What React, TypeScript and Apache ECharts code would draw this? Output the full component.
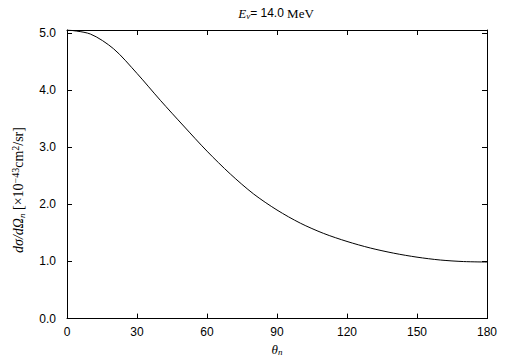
import React, { useEffect, useRef } from "react";
import * as echarts from "echarts";

const thetaDeg = [0, 10, 20, 30, 40, 50, 60, 70, 80, 90, 100, 110, 120, 130, 140, 150, 160, 170, 180];
const crossSection = [5.05, 4.98, 4.72, 4.29, 3.82, 3.37, 2.93, 2.53, 2.18, 1.90, 1.67, 1.49, 1.35, 1.235, 1.145, 1.075, 1.025, 0.998, 0.99];
const xTicks = [0, 30, 60, 90, 120, 150, 180];
const yTicks = [0, 1, 2, 3, 4, 5];

export default function App() {
  const ref = useRef<HTMLDivElement>(null);
  useEffect(() => {
    if (!ref.current) return;
    const chart = echarts.init(ref.current, null, { renderer: "svg" });
    const sans = "Liberation Sans";
    const serif = "Liberation Serif";
    const axisCommon = {
      axisLine: { show: true, onZero: false, lineStyle: { color: "#000", width: 1 } },
      axisTick: { show: true, inside: true, length: 5, lineStyle: { color: "#000" } },
      splitLine: { show: false },
    };
    chart.setOption({
      animation: false,
      backgroundColor: "#fff",
      grid: { left: 67, right: 18, top: 30, bottom: 41, containLabel: false },
      graphic: [
        {
          type: "text",
          x: 276,
          y: 13,
          style: {
            text: "{e|E}{nu|ν}{eq|= 14.0}{mev| MeV}",
            align: "center",
            verticalAlign: "middle",
            rich: {
              e: { fontFamily: serif, fontStyle: "italic", fontSize: 13, fill: "#000" },
              nu: { fontFamily: serif, fontStyle: "italic", fontSize: 9, fill: "#000", verticalAlign: "bottom", padding: [5, 0, 0, 0] },
              eq: { fontFamily: sans, fontSize: 12, fill: "#000" },
              mev: { fontFamily: serif, fontSize: 13, fill: "#000" },
            },
          },
        },
        {
          type: "text",
          x: 18,
          y: 190,
          rotation: Math.PI / 2,
          style: {
            text: "{i|dσ/dΩ}{sub|n}{r| [×10}{sup|−43}{r|cm}{sup|2}{r|/sr]}",
            align: "center",
            verticalAlign: "middle",
            rich: {
              i: { fontFamily: serif, fontStyle: "italic", fontSize: 14, fill: "#000" },
              sub: { fontFamily: serif, fontStyle: "italic", fontSize: 9, fill: "#000", verticalAlign: "bottom", padding: [6, 0, 0, 0] },
              r: { fontFamily: serif, fontSize: 14, fill: "#000" },
              sup: { fontFamily: serif, fontSize: 10, fill: "#000", verticalAlign: "top", padding: [0, 0, 6, 0] },
            },
          },
        },
      ],
      xAxis: [
        {
          type: "value",
          min: 0,
          max: 180,
          interval: 30,
          position: "bottom",
          ...axisCommon,
          axisLabel: {
            color: "#000",
            fontFamily: sans,
            fontSize: 12,
            margin: 7,
            formatter: (v: number) => (xTicks.includes(v) ? String(v) : ""),
          },
          name: "{t|θ}{n|n}",
          nameLocation: "middle",
          nameGap: 22,
          nameTextStyle: {
            rich: {
              t: { fontFamily: serif, fontStyle: "italic", fontSize: 13, color: "#000" },
              n: { fontFamily: serif, fontStyle: "italic", fontSize: 9, color: "#000", verticalAlign: "bottom", padding: [5, 0, 0, 0] },
            },
          },
        },
        {
          type: "value",
          min: 0,
          max: 180,
          interval: 30,
          position: "top",
          ...axisCommon,
          axisLabel: { show: false },
        },
      ],
      yAxis: [
        {
          type: "value",
          min: 0,
          max: 5.05,
          interval: 1,
          position: "left",
          ...axisCommon,
          axisLabel: {
            color: "#000",
            fontFamily: sans,
            fontSize: 12,
            margin: 11,
            showMaxLabel: false,
            formatter: (v: number) => (yTicks.includes(v) ? v.toFixed(1) : ""),
          },
        },
        {
          type: "value",
          min: 0,
          max: 5.05,
          interval: 1,
          position: "right",
          ...axisCommon,
          axisLabel: { show: false },
        },
      ],
      series: [
        {
          type: "line",
          xAxisIndex: 0,
          yAxisIndex: 0,
          data: thetaDeg.map((t, i) => [t, crossSection[i]]),
          smooth: 0.3,
          showSymbol: false,
          symbol: "none",
          lineStyle: { color: "#000", width: 1 },
        },
      ],
    });
    return () => chart.dispose();
  }, []);
  return <div ref={ref} style={{ width: 505, height: 361, position: "absolute", left: 0, top: 0 }} />;
}
